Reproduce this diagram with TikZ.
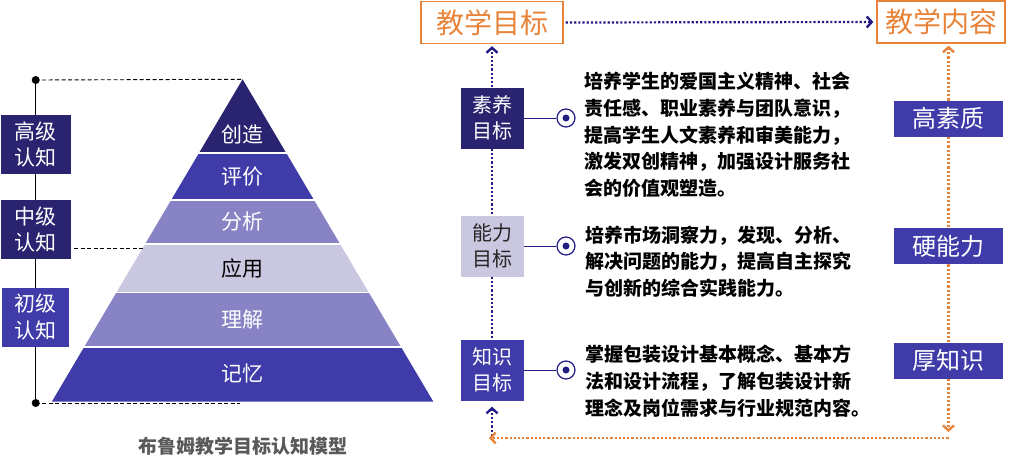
\documentclass[tikz,border=0pt]{standalone}
\usepackage{fontspec}
\newfontfamily\cjk{Noto Sans CJK SC}
\usetikzlibrary{arrows.meta,positioning}
\definecolor{navy}{HTML}{2A2470}
\definecolor{midblue}{HTML}{3F3BA9}
\definecolor{lavender}{HTML}{8783C5}
\definecolor{pale}{HTML}{C9C8E0}
\definecolor{tangerine}{HTML}{E8843A}
\definecolor{dotnavy}{HTML}{231C85}

\begin{document}
\begin{tikzpicture}[x=1pt, y=-1pt,
    levelbox/.style={fill=#1, text=white, minimum width=70pt, minimum height=59pt,
      inner sep=0pt, align=center, font=\cjk\fontsize{21}{26.5}\selectfont},
    layertext/.style={text=white, inner sep=0pt, font=\cjk\fontsize{21}{21}\selectfont},
    headbox/.style={draw=tangerine, line width=1.3pt, text=tangerine, minimum width=142pt,
      minimum height=42pt, inner sep=0pt, font=\cjk\fontsize{28}{28}\selectfont},
    goalbox/.style={fill=#1, text=white, minimum width=63pt, minimum height=61pt,
      inner sep=0pt, align=center, font=\cjk\fontsize{20}{26}\selectfont},
    contentbox/.style={fill=midblue, text=white, minimum width=109pt, minimum height=36pt,
      inner sep=0pt, font=\cjk\fontsize{24}{24}\selectfont},
    bullet/.style={circle, draw=dotnavy, line width=1.2pt, fill=white, minimum size=18pt,
      inner sep=0pt, path picture={\fill[dotnavy] (path picture bounding box.center) circle (3.5pt);}},
    para/.style={anchor=west, inner sep=0pt, align=left, text=black,
      font=\cjk\bfseries\fontsize{19}{26.7}\selectfont},
    guide/.style={black, line width=0.9pt, dash pattern=on 4pt off 2.5pt},
    navyarrow/.style={dotnavy, line width=2.2pt, dotted,
      -{Straight Barb[length=5pt,width=11pt,line width=2.4pt]}},
    orangearrow/.style={tangerine, line width=2.2pt, dotted,
      -{Straight Barb[length=5pt,width=11pt,line width=2.4pt]}},
    navydots/.style={dotnavy, line width=2.2pt, dotted},
    orangedots/.style={tangerine, line width=2.2pt, dotted}]
  \useasboundingbox (0,0) rectangle (1018,463);

  % Bloom pyramid
  % ---------------------
  \coordinate (apex) at (242.6,79.3);
  \coordinate (bl) at (51.8,401.7);
  \coordinate (br) at (433.4,401.7);
  \begin{scope}
    \clip (apex) -- (br) -- (bl) -- cycle;
    \foreach \ya/\yb/\col in {79.3/152.3/navy, 154.3/199/midblue, 201/243/lavender,
        245/291.7/pale, 293.3/346/lavender, 348/401.7/midblue}
      \fill[\col] (40,\ya) rectangle (445,\yb);
  \end{scope}
  \node[layertext] (cz) at (242.6,134) {创造};
  \node[layertext] (pj) at (242.6,176.7) {评价};
  \node[layertext] (fx) at (242.6,221.7) {分析};
  \node[layertext, text=black] (yy) at (242.6,268.3) {应用};
  \node[layertext] (lj) at (242.6,319.3) {理解};
  \node[layertext] (jy) at (242.6,373.3) {记忆};

  % Levels axis
  % ---------------------
  \coordinate (axtop) at (35.7,80);
  \coordinate (axbot) at (35.7,403);
  \coordinate (midl) at (74,248.3);
  \coordinate (midr) at (142.8,248.3);
  \coordinate (botr) at (240,403);
  \draw[black, line width=1pt] (axtop) -- (axbot);
  \draw[guide] (axtop) -- (apex);
  \draw[guide] (midl) -- (midr);
  \draw[guide] (axbot) -- (botr);
  \fill (axtop) circle (4pt);
  \fill (axbot) circle (4pt);
  \node[levelbox=navy] (gjrz) at (35.5,144.5) {高级\\认知};
  \node[levelbox=navy] (zjrz) at (35.5,229.7) {中级\\认知};
  \node[levelbox=midblue, minimum width=67pt] (cjrz) at (35.3,317.2) {初级\\认知};
  \node[text=black!65, font=\cjk\bfseries\fontsize{19}{19}\selectfont] (title) at (242.7,446.7) {布鲁姆教学目标认知模型};

  % Goals and contents
  % ---------------------
  \node[headbox] (jxmb) at (492,22.5) {教学目标};
  \node[headbox, minimum width=128pt] (jxnr) at (941,22) {教学内容};
  \node[goalbox=navy] (symb) at (492,118) {素养\\目标};
  \node[goalbox=pale, text=black!85] (nlmb) at (492,246) {能力\\目标};
  \node[goalbox=midblue] (zsmb) at (492,370) {知识\\目标};
  \node[bullet] (dot1) at (566,118) {};
  \node[bullet] (dot2) at (566,246) {};
  \node[bullet] (dot3) at (566,370) {};
  \draw[dotnavy, line width=1pt] (symb.east) -- (dot1.west);
  \draw[dotnavy, line width=1pt] (nlmb.east) -- (dot2.west);
  \draw[dotnavy, line width=1pt] (zsmb.east) -- (dot3.west);
  \node[para] (sytxt) at (584,135) {培养学生的爱国主义精神、社会\\责任感、职业素养与团队意识，\\提高学生人文素养和审美能力，\\激发双创精神，加强设计服务社\\会的价值观塑造。};
  \node[para] (nltxt) at (585,261.7) {培养市场洞察力，发现、分析、\\解决问题的能力，提高自主探究\\与创新的综合实践能力。};
  \node[para] (zstxt) at (585,381) {掌握包装设计基本概念、基本方\\法和设计流程，了解包装设计新\\理念及岗位需求与行业规范内容。};
  \node[contentbox] (gsz) at (948.5,118.7) {高素质};
  \node[contentbox] (ynl) at (948.5,246.2) {硬能力};
  \node[contentbox] (hzs) at (948.5,360.8) {厚知识};

  % Dotted loop
  % ---------------------
  \coordinate (cnr) at (948.5,438);
  \coordinate (cnl) at (492,438);
  \draw[navyarrow, shorten <=2pt, shorten >=3pt] (jxmb.east) -- (jxnr.west);
  \draw[navyarrow, shorten >=2pt] (symb.north) -- (jxmb.south);
  \draw[navydots] (symb.south) -- (nlmb.north);
  \draw[navydots] (nlmb.south) -- (zsmb.north);
  \draw[navyarrow, shorten >=6pt] ([yshift=2pt]cnl) -- (zsmb.south);
  \draw[orangearrow, shorten >=2pt] (gsz.north) -- (gsz.north |- jxnr.south);
  \draw[orangedots] (gsz.south) -- (ynl.north);
  \draw[orangedots] (ynl.south) -- (hzs.north);
  \draw[orangearrow] (hzs.south) -- ([yshift=6pt]cnr);
  \draw[orangearrow] (cnr) -- ([xshift=-3pt]cnl);
\end{tikzpicture}
\end{document}
